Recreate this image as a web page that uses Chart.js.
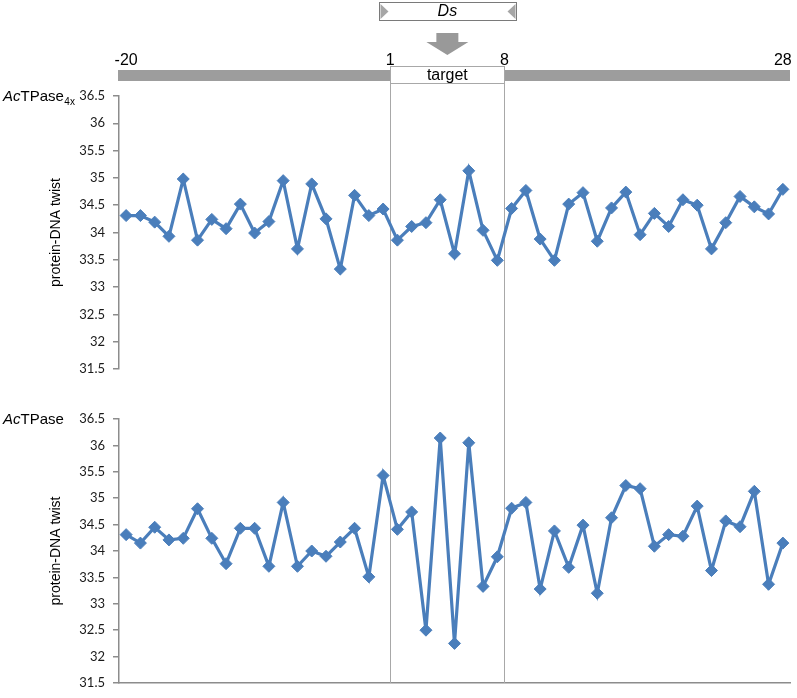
<!DOCTYPE html>
<html>
<head>
<meta charset="utf-8">
<script src="https://cdn.jsdelivr.net/npm/chart.js@4"></script>
<style>
  html, body { margin: 0; padding: 0; background: #fff; overflow: hidden; }
  #wrap { position: relative; width: 797px; height: 698px; }
  .panel { position: absolute; left: 0; width: 797px; }
  #topPanel { top: 0; height: 395px; }
  #bottomPanel { top: 395px; height: 315px; }
</style>
</head>
<body>
<div id="wrap">
  <div class="panel" id="topPanel"><canvas id="topChart"></canvas></div>
  <div class="panel" id="bottomPanel"><canvas id="bottomChart"></canvas></div>
</div>
<script>
// ═══════════════════════════════════════════
//  protein-DNA twist along the Ds target site
// ═══════════════════════════════════════════

// ─── Data ───
const positions = [-20, -19, -18, -17, -16, -15, -14, -13, -12, -11, -10, -9, -8, -7, -6, -5, -4, -3, -2,
  1, 2, 3, 4, 5, 6, 7, 8, 9, 10, 11, 12, 13, 14, 15, 16, 17, 18, 19, 20, 21, 22, 23, 24, 25, 26, 27, 28];

const twist4x = [34.31, 34.31, 34.19, 33.93, 34.98, 33.86, 34.24, 34.07, 34.52, 33.99, 34.20, 34.95, 33.70,
  34.89, 34.25, 33.33, 34.68, 34.31, 34.43,
  33.86, 34.11, 34.18, 34.60, 33.61, 35.13, 34.04, 33.49,
  34.44, 34.77, 33.88, 33.49, 34.52, 34.73, 33.84, 34.45, 34.74, 33.96, 34.35, 34.11, 34.60, 34.50,
  33.70, 34.18, 34.66, 34.47, 34.34, 34.79];

const twistWT = [34.31, 34.15, 34.45, 34.21, 34.24, 34.80, 34.24, 33.76, 34.43, 34.43, 33.71, 34.92, 33.71,
  34.00, 33.90, 34.17, 34.43, 33.51, 35.43,
  34.41, 34.74, 32.50, 36.14, 32.25, 36.05, 33.33, 33.89,
  34.81, 34.92, 33.28, 34.38, 33.69, 34.49, 33.20, 34.63, 35.24, 35.18, 34.09, 34.31, 34.28, 34.85,
  33.63, 34.57, 34.46, 35.13, 33.37, 34.15];

const yMin = 31.5, yMax = 36.5, yStep = 0.5;
const targetFrom = 1, targetTo = 8;
const axisLabels = ['-20', '1', '8', '28'];

// ─── Style ───
const BLUE = '#4a7ebb';
const AXIS = '#8c8c8c';
const GUIDE = '#a8a8a8';
const ARIAL = '"Liberation Sans", Arial, sans-serif';

// ─── Helpers ───
function targetEdges(xs) {
  const half = (xs.getPixelForValue(1) - xs.getPixelForValue(0)) / 2;
  const i1 = positions.indexOf(targetFrom);
  const i2 = positions.indexOf(targetTo);
  return { left: xs.getPixelForValue(i1) - half, right: xs.getPixelForValue(i2) + half };
}

function drawPanelLabel(ctx, x, baseline, sub) {
  ctx.textAlign = 'left';
  ctx.textBaseline = 'alphabetic';
  ctx.fillStyle = '#000';
  ctx.font = 'italic 15px ' + ARIAL;
  ctx.fillText('Ac', x, baseline);
  x += ctx.measureText('Ac').width;
  ctx.font = '15px ' + ARIAL;
  ctx.fillText('TPase', x, baseline);
  x += ctx.measureText('TPase').width;
  if (sub) {
    ctx.font = '10px ' + ARIAL;
    ctx.fillText(sub, x + 0.5, baseline + 4);
  }
}

// ─── Plugins ───
const targetLines = {
  id: 'targetLines',
  beforeDatasetsDraw(chart, args, opts) {
    const { ctx, chartArea: area, scales: { x } } = chart;
    const { left, right } = targetEdges(x);
    const y2 = opts.toCanvasEnd ? chart.height : area.bottom;
    ctx.save();
    ctx.strokeStyle = GUIDE;
    ctx.lineWidth = 1;
    ctx.beginPath();
    [left, right].forEach(px => {
      const X = Math.round(px) + 0.5;
      ctx.moveTo(X, opts.from);
      ctx.lineTo(X, y2);
    });
    ctx.stroke();
    ctx.restore();
  }
};

const panelLabel = {
  id: 'panelLabel',
  afterDraw(chart, args, opts) {
    const ctx = chart.ctx;
    ctx.save();
    drawPanelLabel(ctx, 3, chart.chartArea.top + 5, opts.sub);
    ctx.restore();
  }
};

const header = {
  id: 'header',
  afterDraw(chart) {
    const { ctx, chartArea: area, scales: { x } } = chart;
    const { left: tL, right: tR } = targetEdges(x);
    const cx = (tL + tR) / 2;
    ctx.save();

    // sequence bar
    ctx.fillStyle = '#9d9d9d';
    ctx.fillRect(area.left - 1, 70, area.right - area.left + 1, 11);

    // target box
    ctx.fillStyle = '#fff';
    ctx.fillRect(tL, 67, tR - tL, 17);
    ctx.strokeStyle = GUIDE;
    ctx.lineWidth = 1;
    ctx.strokeRect(Math.round(tL) + 0.5, 66.5, Math.round(tR) - Math.round(tL), 17);
    ctx.fillStyle = '#000';
    ctx.font = '16px ' + ARIAL;
    ctx.textAlign = 'center';
    ctx.textBaseline = 'middle';
    ctx.fillText('target', cx, 76);

    // position numbers
    ctx.textBaseline = 'alphabetic';
    const spots = [x.getPixelForValue(0), tL, tR, x.getPixelForValue(positions.length - 1)];
    axisLabels.forEach((t, i) => ctx.fillText(t, spots[i], 65));

    // Ds element
    const dL = Math.round(tL) - 10.5, dR = Math.round(tR) + 12.5;
    ctx.fillStyle = '#fff';
    ctx.fillRect(dL, 2.5, dR - dL, 18);
    ctx.strokeStyle = '#7a7a7a';
    ctx.strokeRect(dL, 2.5, dR - dL, 18);
    ctx.fillStyle = '#a6a6a6';
    ctx.beginPath();
    ctx.moveTo(dL + 1, 4); ctx.lineTo(dL + 9, 11.5); ctx.lineTo(dL + 1, 19); ctx.closePath();
    ctx.moveTo(dR - 1, 4); ctx.lineTo(dR - 9, 11.5); ctx.lineTo(dR - 1, 19); ctx.closePath();
    ctx.fill();
    ctx.fillStyle = '#000';
    ctx.font = 'italic 16px ' + ARIAL;
    ctx.textBaseline = 'middle';
    ctx.fillText('Ds', cx, 12);

    // insertion arrow
    ctx.fillStyle = '#999';
    ctx.beginPath();
    ctx.moveTo(cx - 11, 33); ctx.lineTo(cx + 11, 33); ctx.lineTo(cx + 11, 42);
    ctx.lineTo(cx + 21, 42); ctx.lineTo(cx, 55); ctx.lineTo(cx - 21, 42);
    ctx.lineTo(cx - 11, 42); ctx.closePath();
    ctx.fill();

    ctx.restore();
  }
};

// ─── Chart factory ───
function makeChart(id, values, cfg) {
  return new Chart(document.getElementById(id), {
    type: 'line',
    data: {
      labels: positions,
      datasets: [{
        data: values,
        borderColor: BLUE,
        backgroundColor: BLUE,
        borderWidth: 3.2,
        tension: 0,
        pointStyle: 'rectRot',
        pointRadius: 6,
        pointBorderWidth: 1,
        pointBorderColor: BLUE,
        pointBackgroundColor: BLUE
      }]
    },
    options: {
      responsive: true,
      maintainAspectRatio: false,
      animation: false,
      layout: { padding: cfg.padding },
      plugins: {
        legend: { display: false },
        tooltip: { enabled: false },
        targetLines: cfg.lines,
        panelLabel: { sub: cfg.sub }
      },
      scales: {
        x: {
          display: cfg.showX,
          offset: true,
          grid: { display: false },
          ticks: { display: false },
          border: { display: true, color: AXIS, width: 1.5 }
        },
        y: {
          min: yMin,
          max: yMax,
          afterFit: s => { s.width = 119; },
          ticks: {
            stepSize: yStep,
            padding: 8,
            color: '#1a1a1a',
            font: { family: 'Lato', size: 13 },
            callback: v => String(v)
          },
          grid: { drawOnChartArea: false, drawTicks: true, tickLength: 6, color: AXIS, lineWidth: 1.5 },
          border: { color: AXIS, width: 1.5 },
          title: {
            display: true,
            text: 'protein-DNA twist',
            color: '#000',
            font: { family: 'Liberation Sans', size: 14 },
            padding: { top: 48, bottom: 0 }
          }
        }
      }
    },
    plugins: cfg.plugins
  });
}

// ─── Init ───
makeChart('topChart', twist4x, {
  padding: { top: 96, left: 0, right: 3, bottom: 26 },
  showX: false,
  sub: '4x',
  lines: { from: 84, toCanvasEnd: true },
  plugins: [targetLines, panelLabel, header]
});

makeChart('bottomChart', twistWT, {
  padding: { top: 24, left: 0, right: 3, bottom: 19 },
  showX: true,
  sub: '',
  lines: { from: 0, toCanvasEnd: false },
  plugins: [targetLines, panelLabel]
});
</script>
</body>
</html>
